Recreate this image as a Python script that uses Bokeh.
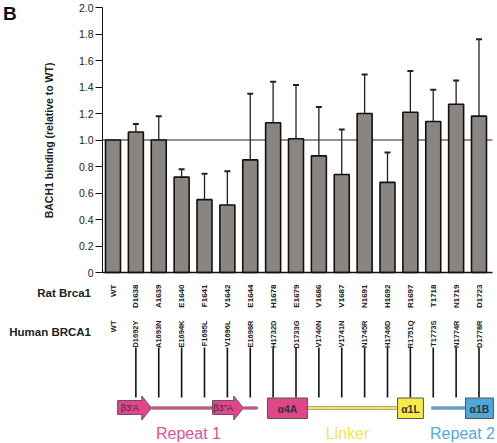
import math
from bokeh.plotting import figure
from bokeh.layouts import column, row
from bokeh.models import ColumnDataSource, Whisker, TeeHead, FixedTicker, Range1d
from bokeh.core.properties import value
from bokeh.embed import file_html
from bokeh.resources import INLINE

# ---------------- data ----------------
rat_labels = ["WT", "D1638", "A1639", "E1640", "F1641", "V1642", "E1644", "H1678", "E1679",
              "V1686", "V1687", "N1691", "H1692", "R1697", "T1718", "N1719", "D1723"]
human_labels = ["WT", "D1692Y", "A1693N", "E1694K", "F1695L", "V1696L", "E1698R", "H1732D", "D1733G",
                "V1740N", "V1741N", "N1745R", "H1746D", "R1751Q", "T1773S", "N1774R", "D1778R"]
binding = [1.00, 1.06, 1.00, 0.72, 0.55, 0.51, 0.85, 1.13, 1.01,
           0.88, 0.74, 1.20, 0.68, 1.21, 1.14, 1.27, 1.18]
error_top = [None, 1.12, 1.18, 0.78, 0.745, 0.765, 1.35, 1.44, 1.415,
             1.25, 1.08, 1.495, 0.905, 1.52, 1.38, 1.45, 1.76]
y_ticks = [0, 0.2, 0.4, 0.6, 0.8, 1.0, 1.2, 1.4, 1.6, 1.8, 2.0]
y_tick_labels = ["0", "0.2", "0.4", "0.6", "0.8", "1.0", "1.2", "1.4", "1.6", "1.8", "2.0"]

# domain diagram (positions in residue-column units)
domain_names = ["\u03b23'A", "\u03b23''A", "\u03b14A", "\u03b11L", "\u03b11B"]
domain_kind = ["arrow", "arrow", "box", "box", "box"]
domain_start = [0.20, 4.35, 6.75, 12.44, 15.41]
domain_end = [1.68, 5.70, 8.50, 13.57, 16.63]
domain_color = ["#e0468a", "#e0468a", "#e0468a", "#f6ec48", "#4ea8dc"]
link_start = [1.68, 5.70, 8.50, 13.92]
link_end = [4.35, 6.32, 12.44, 15.41]
link_color = ["#e0468a", "#e0468a", "#f3e640", "#4ea8dc"]
region_names = ["Repeat 1", "Linker", "Repeat 2"]
region_center = [3.30, 10.25, 15.28]
region_color = ["#e4509a", "#f2e650", "#4faadf"]

# ---------------- layout helpers (page px -> data units) ----------------
X0, DX = 112.5, 22.875     # page x of first bar centre, px per category
Y0, Y2 = 272.0, 7.0        # page y of value 0 and value 2.0
SY = (Y0 - Y2) / 2.0
TOP_H = 280
W = 497
H = 443


def ux(px):
    return (px - X0) / DX


n = len(rat_labels)
idx = list(range(n))


def clean(f):
    f.outline_line_color = None
    f.grid.grid_line_color = None
    f.background_fill_color = "white"
    f.border_fill_color = "white"
    return f


# ---------------- "B" panel ----------------
bfig = clean(figure(width=20, height=TOP_H, output_backend="svg", toolbar_location=None,
                    x_range=Range1d(0, 20), y_range=Range1d(TOP_H, 0),
                    x_axis_type=None, y_axis_type=None,
                    min_border=0))
bfig.text(x=[2.5], y=[2.5], text=["B"], text_align="left", text_baseline="top",
          text_font=value("Liberation Sans"), text_font_style="bold",
          text_font_size="19px", text_color="#111111")

# ---------------- bar chart ----------------
p = clean(figure(width=W - 20, height=TOP_H, output_backend="svg", toolbar_location=None,
                 x_range=Range1d(ux(102), ux(W)),
                 y_range=Range1d((Y0 - TOP_H) / SY, Y0 / SY),
                 x_axis_type=None, min_border_left=82, min_border_right=0,
                 min_border_top=0, min_border_bottom=0))

yax = p.yaxis[0]
yax.bounds = (0, 2)
yax.ticker = FixedTicker(ticks=y_ticks)
yax.minor_tick_line_color = None
yax.major_label_overrides = {t: l for t, l in zip(y_ticks, y_tick_labels)}
yax.major_tick_out = 7
yax.major_tick_in = 0
yax.major_label_standoff = 2
yax.axis_line_color = "#111111"
yax.major_tick_line_color = "#111111"
yax.major_label_text_font = "Liberation Sans"
yax.major_label_text_font_size = "10.5px"
yax.major_label_text_color = "#222222"
yax.axis_label = "BACH1 binding (relative to WT)"
yax.axis_label_text_font = "Liberation Sans"
yax.axis_label_text_font_style = "bold"
yax.axis_label_text_font_size = "10.5px"
yax.axis_label_text_color = "#222222"
yax.axis_label_standoff = 21

x_left, x_right = ux(102), ux(492)

p.segment(x0=[x_left], y0=[1.0], x1=[x_right], y1=[1.0], line_color="#222222", line_width=1.2)

src = ColumnDataSource(dict(x=idx, top=binding))
p.vbar(x="x", top="top", width=0.655, source=src, fill_color="#8a8580",
       line_color="#111111", line_width=1.6)

ex = [i for i in idx if error_top[i] is not None]
esrc = ColumnDataSource(dict(x=ex, lower=[binding[i] for i in ex], upper=[error_top[i] for i in ex]))
p.add_layout(Whisker(source=esrc, base="x", lower="lower", upper="upper", dimension="height",
                     line_color="#222222", line_width=1.3, lower_head=None,
                     upper_head=TeeHead(size=6, line_width=2, line_color="#222222")))

p.segment(x0=[x_left], y0=[0], x1=[x_right], y1=[0], line_color="#111111", line_width=1.6)

# ---------------- lower panel: labels + domain diagram ----------------
q = clean(figure(width=W, height=H - TOP_H, output_backend="svg", toolbar_location=None,
                 x_range=Range1d(ux(0), ux(W)), y_range=Range1d(H, TOP_H),
                 x_axis_type=None, y_axis_type=None, min_border=0))

q.text(x=[ux(90.5)], y=[292], text=["Rat Brca1"], text_align="right", text_baseline="middle",
       text_font=value("Liberation Sans"), text_font_style="bold", text_font_size="11.5px",
       text_color="#222222")
q.text(x=[ux(90.5)], y=[331], text=["Human BRCA1"], text_align="right", text_baseline="middle",
       text_font=value("Liberation Sans"), text_font_style="bold", text_font_size="11.5px",
       text_color="#222222")

q.text(x=idx, y=[284] * n, text=rat_labels, angle=math.pi / 2,
       text_align="right", text_baseline="middle", text_font=value("Liberation Sans"),
       text_font_style="bold", text_font_size="8px", text_color="#222222")
q.text(x=idx, y=[320] * n, text=human_labels, angle=math.pi / 2,
       text_align="right", text_baseline="middle", text_font=value("Liberation Sans"),
       text_font_style="bold", text_font_size="7.5px", text_color="#222222")

q.segment(x0=idx[1:], y0=[347] * (n - 1), x1=idx[1:], y1=[397] * (n - 1),
          line_color="#111111", line_width=1.6)

ly = 407.5
for s, e, c in zip(link_start, link_end, link_color):
    q.segment(x0=[s], y0=[ly], x1=[e], y1=[ly], line_color="#8a8a8a", line_width=3.5)
    q.segment(x0=[s], y0=[ly], x1=[e], y1=[ly], line_color=c, line_width=2.2)

head = 0.42
for name, kind, s, e, c in zip(domain_names, domain_kind, domain_start, domain_end, domain_color):
    if kind == "arrow":
        hb = e - head
        xs = [s, hb, hb, e, hb, hb, s]
        ys = [414, 414, 419.5, 407.5, 395.5, 400, 400]
        q.patch(x=xs, y=ys, fill_color=c, line_color="#7a4a60", line_width=1)
        q.text(x=[(s + hb) / 2], y=[407.5], text=[name], text_align="center",
               text_baseline="middle", text_font=value("Liberation Sans"),
               text_font_size="9px", text_color="#3a2a30")
    else:
        q.quad(left=[s], right=[e], top=[397.5], bottom=[418], fill_color=c,
               line_color="#555555", line_width=1)
        q.text(x=[(s + e) / 2], y=[408], text=[name], text_align="center",
               text_baseline="middle", text_font=value("Liberation Sans"),
               text_font_style="bold", text_font_size="10.5px", text_color="#333333")

q.text(x=region_center, y=[432.5] * 3, text=region_names, text_align="center",
       text_baseline="middle", text_font=value("Liberation Sans"), text_font_size="16px",
       text_color=region_color)

layout = column(row(bfig, p, spacing=0), q, spacing=0)

open("out.html", "w").write(file_html(layout, INLINE))
